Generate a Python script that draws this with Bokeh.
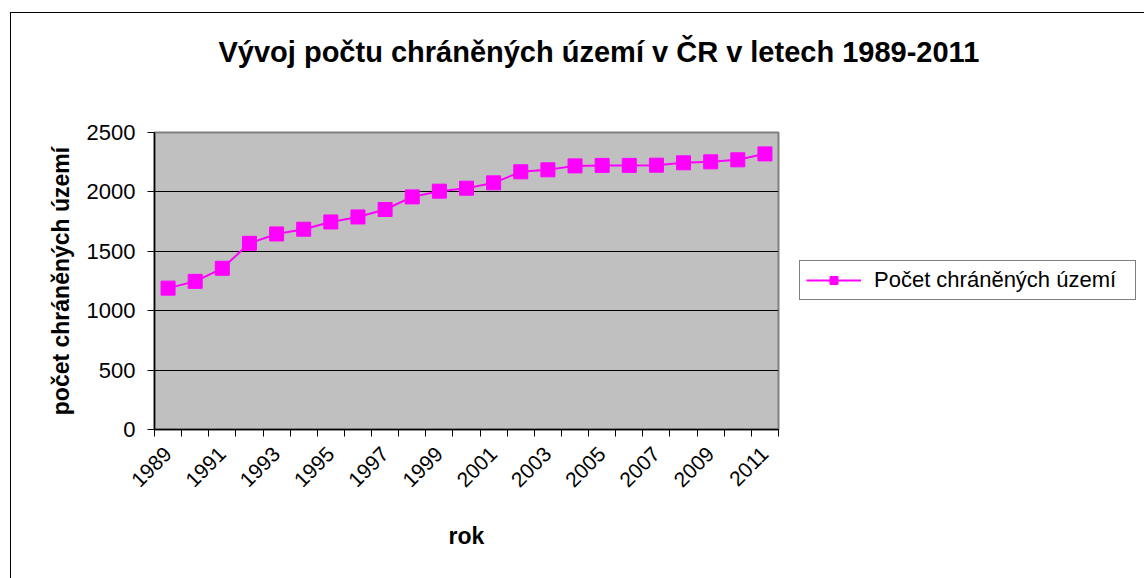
import math
from bokeh.plotting import figure
from bokeh.models import FixedTicker, Legend, LegendItem, Range1d, Title
from bokeh.embed import file_html
from bokeh.resources import INLINE

years = list(range(1989, 2012))
counts = [1190, 1247, 1357, 1567, 1646, 1686, 1747, 1789, 1852, 1958, 2006, 2031,
          2076, 2169, 2186, 2219, 2223, 2223, 2225, 2245, 2253, 2270, 2320]
y_ticks = [0, 500, 1000, 1500, 2000, 2500]
label_years = list(range(1989, 2012, 2))
series_name = "Počet chráněných území"
title_text = "Vývoj počtu chráněných území v ČR v letech 1989-2011"

FONT = "Liberation Sans"

p = figure(frame_width=624, frame_height=297, output_backend="svg", toolbar_location=None,
           x_range=Range1d(years[0] - 0.5, years[-1] + 0.5),
           y_range=Range1d(0, 2500),
           min_border_left=143, min_border_right=0, min_border_top=119, min_border_bottom=149)
p.margin = (12, 0, 0, 10)

p.title.text = title_text
p.title.align = "left"
p.title.offset = 64
p.title.standoff = 40
p.title.text_font = FONT
p.title.text_font_size = "29px"
p.title.text_font_style = "bold"
p.title.text_color = "black"

# blank spacer between title and plot area
p.add_layout(Title(text=" ", text_font_size="10px", standoff=32), "above")

p.background_fill_color = "#C0C0C0"
p.border_fill_color = "white"
p.outline_line_color = "#808080"
p.outline_line_width = 2

line = p.line(years, counts, line_color="#FF00FF", line_width=2)
pts = p.scatter(years, counts, marker="square", size=14, fill_color="#FF00FF",
                line_color="#FF00FF")

# x axis
xa = p.xaxis[0]
xa.ticker = FixedTicker(ticks=label_years,
                        minor_ticks=[y - 0.5 for y in years] + [years[-1] + 0.5])
xa.major_tick_out = 0
xa.major_tick_in = 0
xa.minor_tick_out = 7
xa.minor_tick_in = 0
xa.minor_tick_line_color = "black"
xa.axis_line_color = "black"
xa.axis_line_width = 1.5
xa.major_label_orientation = math.pi / 4
xa.major_label_text_font = FONT
xa.major_label_text_font_size = "21px"
xa.major_label_text_color = "black"
xa.major_label_standoff = 14
xa.axis_label = "rok"
xa.axis_label_text_font = FONT
xa.axis_label_text_font_size = "23px"
xa.axis_label_text_font_style = "bold"
xa.axis_label_text_color = "black"
xa.axis_label_standoff = 27

ya = p.yaxis[0]
ya.ticker = FixedTicker(ticks=y_ticks)
ya.minor_tick_out = 0
ya.minor_tick_in = 0
ya.major_tick_out = 7
ya.major_tick_in = 0
ya.major_tick_line_color = "black"
ya.axis_line_color = "black"
ya.axis_line_width = 1.5
ya.major_label_text_font = FONT
ya.major_label_text_font_size = "22px"
ya.major_label_text_color = "black"
ya.major_label_standoff = 12
ya.axis_label = "počet chráněných území"
ya.axis_label_text_font = FONT
ya.axis_label_text_font_size = "23px"
ya.axis_label_text_font_style = "bold"
ya.axis_label_text_color = "black"
ya.axis_label_standoff = 10

p.xgrid.grid_line_color = None
p.ygrid.grid_line_color = "black"
p.ygrid.grid_line_width = 1.2
p.ygrid.ticker = FixedTicker(ticks=y_ticks)

legend = Legend(items=[LegendItem(label=series_name, renderers=[line, pts])],
                location=(21, 129), border_line_color="black", border_line_width=1,
                background_fill_color="white", background_fill_alpha=1,
                label_text_font=FONT, label_text_font_size="22px",
                label_text_color="black", glyph_width=55, glyph_height=20,
                label_standoff=13, label_width=255,
                padding=6, spacing=0, margin=0)
p.add_layout(legend, "right")

p.styles = {"border-left": "1px solid black", "border-top": "1px solid black"}

open("out.html", "w").write(file_html(p, INLINE))
